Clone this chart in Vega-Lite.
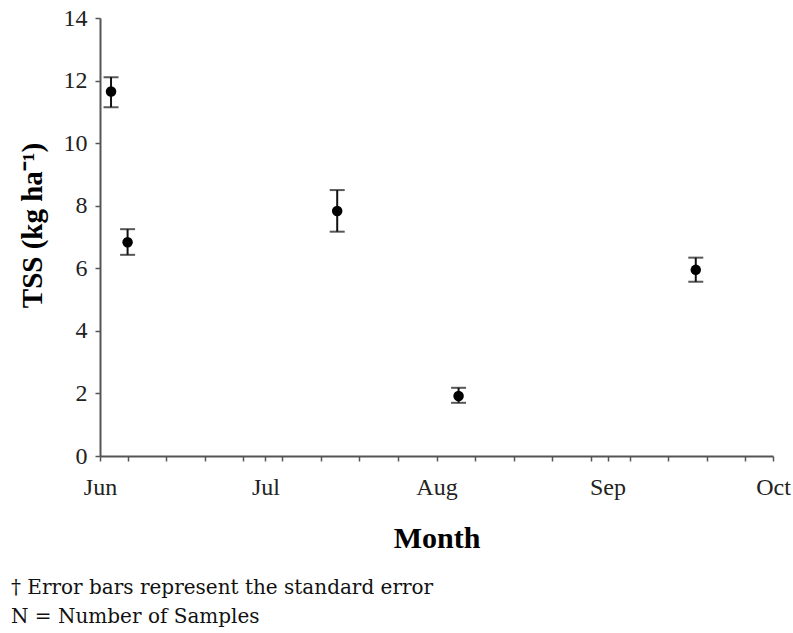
{
  "$schema": "https://vega.github.io/schema/vega-lite/v6.json",
  "width": 673,
  "height": 438,
  "autosize": {"type": "none"},
  "padding": {"left": 100, "top": 18, "right": 20, "bottom": 177},
  "background": "white",
  "config": {
    "view": {"stroke": null},
    "font": "Liberation Serif",
    "axis": {
      "grid": false,
      "domainColor": "#555555",
      "domainWidth": 2,
      "tickColor": "#555555",
      "tickWidth": 1.5,
      "tickSize": 5,
      "labelFont": "Liberation Serif",
      "labelFontSize": 24,
      "labelColor": "#222222",
      "titleFont": "Liberation Serif",
      "titleFontWeight": "bold",
      "titleColor": "#000000"
    },
    "axisY": {"labelPadding": 8, "titleFontSize": 29, "titlePadding": 16, "titleY": 207},
    "axisX": {"labelPadding": 14, "titleFontSize": 30, "titlePadding": 24, "labelFlush": false, "labelOverlap": false, "labelBound": false}
  },
  "title": {
    "text": ["† Error bars represent the standard error", "N = Number of Samples"],
    "orient": "bottom",
    "anchor": "start",
    "frame": "bounds",
    "dx": -7,
    "offset": 25,
    "font": "DejaVu Serif",
    "fontSize": 20,
    "fontWeight": "normal",
    "color": "#111111",
    "lineHeight": 29
  },
  "data": {
    "values": [
      {"date": "2010/06/03", "tss": 11.65, "lo": 11.15, "hi": 12.11},
      {"date": "2010/06/06", "tss": 6.83, "lo": 6.43, "hi": 7.25},
      {"date": "2010/07/14", "tss": 7.83, "lo": 7.17, "hi": 8.5},
      {"date": "2010/08/05", "tss": 1.92, "lo": 1.7, "hi": 2.18},
      {"date": "2010/09/17", "tss": 5.95, "lo": 5.57, "hi": 6.34}
    ]
  },
  "encoding": {
    "x": {
      "field": "date",
      "type": "temporal",
      "scale": {"domain": [{"year": 2010, "month": "jun", "date": 1}, {"year": 2010, "month": "oct", "date": 1}]},
      "axis": {
        "title": "Month",
        "values": [
          {"year": 2010, "month": "jun", "date": 1},
          {"year": 2010, "month": "jun", "date": 6},
          {"year": 2010, "month": "jun", "date": 13},
          {"year": 2010, "month": "jun", "date": 20},
          {"year": 2010, "month": "jun", "date": 27},
          {"year": 2010, "month": "jul", "date": 1},
          {"year": 2010, "month": "jul", "date": 4},
          {"year": 2010, "month": "jul", "date": 11},
          {"year": 2010, "month": "jul", "date": 18},
          {"year": 2010, "month": "jul", "date": 25},
          {"year": 2010, "month": "aug", "date": 1},
          {"year": 2010, "month": "aug", "date": 8},
          {"year": 2010, "month": "aug", "date": 15},
          {"year": 2010, "month": "aug", "date": 22},
          {"year": 2010, "month": "aug", "date": 29},
          {"year": 2010, "month": "sep", "date": 1},
          {"year": 2010, "month": "sep", "date": 5},
          {"year": 2010, "month": "sep", "date": 12},
          {"year": 2010, "month": "sep", "date": 19},
          {"year": 2010, "month": "sep", "date": 26},
          {"year": 2010, "month": "oct", "date": 1}
        ],
        "labelExpr": "date(datum.value) == 1 ? timeFormat(datum.value, '%b') : ''"
      }
    }
  },
  "layer": [
    {
      "mark": {"type": "rule", "color": "#111111", "strokeWidth": 2},
      "encoding": {
        "y": {"field": "lo", "type": "quantitative", "title": "TSS (kg ha⁻¹)", "scale": {"domain": [0, 14]}, "axis": {"values": [0, 2, 4, 6, 8, 10, 12, 14]}},
        "y2": {"field": "hi"}
      }
    },
    {
      "mark": {"type": "tick", "color": "#111111", "thickness": 2, "size": 15, "orient": "horizontal"},
      "encoding": {
        "y": {"field": "lo", "type": "quantitative", "title": "TSS (kg ha⁻¹)"}
      }
    },
    {
      "mark": {"type": "tick", "color": "#111111", "thickness": 2, "size": 15, "orient": "horizontal"},
      "encoding": {
        "y": {"field": "hi", "type": "quantitative", "title": "TSS (kg ha⁻¹)"}
      }
    },
    {
      "mark": {"type": "point", "filled": true, "color": "#000000", "size": 110, "opacity": 1, "shape": "circle"},
      "encoding": {
        "y": {"field": "tss", "type": "quantitative", "title": "TSS (kg ha⁻¹)"}
      }
    }
  ]
}
